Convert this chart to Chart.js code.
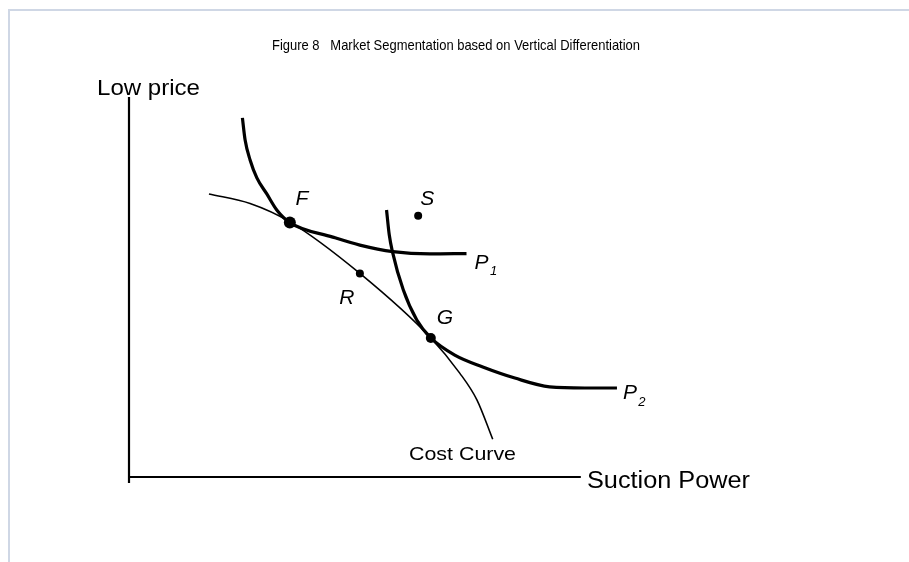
<!DOCTYPE html>
<html>
<head>
<meta charset="utf-8">
<script src="https://cdn.jsdelivr.net/npm/chart.js@4.4.0/dist/chart.umd.min.js"></script>
<style>
  html, body { margin: 0; padding: 0; background: #fff; }
  #frame { position: absolute; left: 8px; top: 9px; width: 901px; height: 553px;
           border-top: 2px solid #cfd7e5; border-left: 2px solid #cfd7e5; box-sizing: border-box; }
  #box { position: absolute; left: 0; top: 0; width: 909px; height: 562px; }
</style>
</head>
<body>
<div id="frame"></div>
<div id="box"><canvas id="figBox"></canvas></div>
<script>
// curve data (axes run 0..100, x scale is a bit wider so P2 fits)
var p1X = [25.1, 25.7, 26.8, 28.3, 30.5, 32.7, 35.6, 45.1, 51.1, 58.4, 66.6, 74.7];
var p1Y = [94.0, 88.2, 83.0, 78.3, 74.1, 69.9, 66.6, 62.8, 60.7, 59.0, 58.4, 58.5];

var p2X = [57.0, 57.6, 58.3, 60.7, 63.7, 66.8, 72.1, 78.3, 85.4, 93.1, 100.9, 108.0];
var p2Y = [69.9, 63.4, 59.0, 49.0, 41.1, 36.4, 31.9, 28.8, 25.9, 23.6, 23.3, 23.3];

var costX = [17.7, 26.8, 35.6, 51.1, 66.8, 73.2, 77.0, 80.5];
var costY = [74.1, 71.6, 66.8, 53.3, 36.4, 27.2, 20.2, 9.9];

var markNames = ['F', 'R', 'G', 'S'];
var markX = [35.6, 51.1, 66.8, 64.0];
var markY = [66.6, 53.3, 36.4, 68.4];

var titleText = 'Figure 8   Market Segmentation based on Vertical Differentiation';
var yTitle = 'Low price';
var xTitle = 'Suction Power';
var costLabel = 'Cost Curve';

function toPoints(xs, ys) {
	var pts = [];
	for (var i = 0; i < xs.length; i++) {
		pts.push({x: xs[i], y: ys[i]});
	}
	return pts;
}

// draws text stretched/squeezed to a given width, left edge at x
function fitText(ctx, text, x, y, w) {
	var m = ctx.measureText(text).width;
	ctx.save();
	ctx.translate(x, y);
	ctx.scale(w / m, 1);
	ctx.textAlign = 'left';
	ctx.fillText(text, 0, 0);
	ctx.restore();
}

// axes, labels and titles
var figurePlugin = {
	id: 'figureText',
	afterDatasetsDraw: function(chart) {
		var ctx = chart.ctx;
		var sx = chart.scales.x, sy = chart.scales.y;
		var x0 = sx.getPixelForValue(0), y0 = sy.getPixelForValue(0);
		ctx.save();
		ctx.strokeStyle = '#000';
		ctx.lineWidth = 2.2;
		ctx.beginPath();
		ctx.moveTo(x0, sy.getPixelForValue(99.5));
		ctx.lineTo(x0, y0 + 6);
		ctx.moveTo(x0, y0);
		ctx.lineTo(sx.getPixelForValue(100), y0);
		ctx.stroke();

		ctx.fillStyle = '#000';
		ctx.textBaseline = 'middle';
		ctx.font = '15px "Liberation Sans", sans-serif';
		fitText(ctx, titleText, 272, 46, 368);

		ctx.font = '22px "Liberation Sans", sans-serif';
		fitText(ctx, yTitle, 97, 89, 103);
		ctx.font = '23px "Liberation Sans", sans-serif';
		fitText(ctx, xTitle, 587, 482, 163);
		ctx.font = '19px "Liberation Sans", sans-serif';
		fitText(ctx, costLabel, 409, 455, 107);

		// point names
		var meta = chart.getDatasetMeta(3);
		var offs = {F: [12, -23], R: [-13, 25], G: [14, -20], S: [9, -17]};
		ctx.font = 'italic 21px "Liberation Sans", sans-serif';
		ctx.textAlign = 'center';
		meta.data.forEach(function(el, i) {
			var o = offs[markNames[i]];
			ctx.fillText(markNames[i], el.x + o[0], el.y + o[1]);
		});

		// curve names at curve ends
		var ends = [[chart.getDatasetMeta(0), '1', [15, 10, 27, 18]],
		            [chart.getDatasetMeta(1), '2', [13, 5, 25, 14]]];
		ends.forEach(function(e) {
			var last = e[0].data[e[0].data.length - 1];
			var o = e[2];
			ctx.textAlign = 'center';
			ctx.font = 'italic 21px "Liberation Sans", sans-serif';
			ctx.fillText('P', last.x + o[0], last.y + o[1]);
			ctx.font = 'italic 13px "Liberation Sans", sans-serif';
			ctx.fillText(e[1], last.x + o[2], last.y + o[3]);
		});
		ctx.restore();
	}
};

var ctx = document.getElementById('figBox');
var figChart = new Chart(ctx, {
	type: 'scatter',
	data: {
		datasets: [{
			label: 'P1',
			data: toPoints(p1X, p1Y),
			showLine: true,
			borderColor: '#000',
			borderWidth: 3.2,
			pointRadius: 0,
			cubicInterpolationMode: 'monotone',
			clip: false
		}, {
			label: 'P2',
			data: toPoints(p2X, p2Y),
			showLine: true,
			borderColor: '#000',
			borderWidth: 3.2,
			pointRadius: 0,
			cubicInterpolationMode: 'monotone',
			clip: false
		}, {
			label: 'Cost Curve',
			data: toPoints(costX, costY),
			showLine: true,
			borderColor: '#000',
			borderWidth: 1.6,
			pointRadius: 0,
			cubicInterpolationMode: 'monotone',
			clip: false
		}, {
			label: 'points',
			data: toPoints(markX, markY),
			showLine: false,
			pointRadius: [6, 4, 5, 4],
			pointBackgroundColor: '#000',
			pointBorderWidth: 0,
			clip: false
		}]
	},
	options: {
		responsive: true,
		maintainAspectRatio: false,
		animation: false,
		devicePixelRatio: 1,
		layout: { padding: { left: 129, right: 283, top: 95, bottom: 85 } },
		scales: {
			x: { type: 'linear', min: 0, max: 110, display: false },
			y: { type: 'linear', min: 0, max: 100, display: false }
		},
		plugins: {
			legend: { display: false },
			tooltip: { enabled: false }
		}
	},
	plugins: [figurePlugin]
});
</script>
</body>
</html>
